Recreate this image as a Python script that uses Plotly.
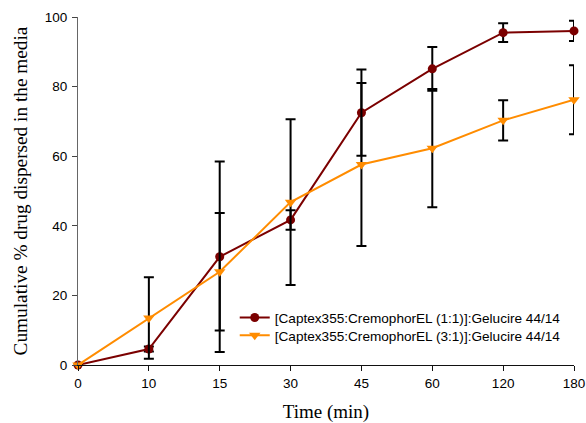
import plotly.graph_objects as go

# Sampling times (min), shown as evenly spaced categories
times = ["0", "10", "15", "30", "45", "60", "120", "180"]

# Cumulative % drug dispersed, mean and SD for each formulation
ratio_1_1_mean = [0.0, 4.6, 31.1, 41.7, 72.5, 85.1, 95.5, 96.0]
ratio_1_1_sd = [0.0, 0.7, 27.4, 2.8, 12.4, 6.3, 2.7, 2.9]
ratio_3_1_mean = [0.0, 13.5, 26.8, 46.8, 57.6, 62.3, 70.3, 76.2]
ratio_3_1_sd = [0.0, 11.7, 16.9, 23.8, 23.4, 17.0, 5.8, 9.9]

series_names = [
    "[Captex355:CremophorEL (1:1)]:Gelucire 44/14",
    "[Captex355:CremophorEL (3:1)]:Gelucire 44/14",
]

y_ticks = [0, 20, 40, 60, 80, 100]

sans = "Liberation Sans, Arial, sans-serif"
serif = "Liberation Serif, Times New Roman, serif"

fig = go.Figure()

fig.add_trace(go.Scatter(
    x=times, y=ratio_1_1_mean, name=series_names[0],
    mode="lines+markers",
    line=dict(color="#7b0000", width=2),
    marker=dict(symbol="circle", size=9, color="#7b0000"),
    error_y=dict(type="data", array=ratio_1_1_sd, visible=True,
                 color="black", thickness=2, width=5),
    cliponaxis=False,
    legend="legend",
))

fig.add_trace(go.Scatter(
    x=times, y=ratio_3_1_mean, name=series_names[1],
    mode="lines+markers",
    line=dict(color="#ff8c00", width=2),
    marker=dict(symbol="triangle-down", size=10, color="#ff8c00"),
    error_y=dict(type="data", array=ratio_3_1_sd, visible=True,
                 color="black", thickness=2, width=5),
    cliponaxis=False,
    legend="legend2",
))

# One legend box per series so the two rows sit close together
legend_style = dict(
    xanchor="left", yanchor="middle",
    bgcolor="rgba(0,0,0,0)", borderwidth=0,
    font=dict(family=sans, size=13.6, color="black"),
    itemwidth=30,
)

fig.update_layout(
    width=586, height=423,
    margin=dict(l=78, r=12, t=17, b=58),
    paper_bgcolor="white", plot_bgcolor="white",
    font=dict(family=sans, size=13, color="black"),
    showlegend=True,
    legend=dict(x=0.316, y=0.136, **legend_style),
    legend2=dict(x=0.316, y=0.085, **legend_style),
    xaxis=dict(
        type="category", categoryorder="array", categoryarray=times,
        range=[0, len(times) - 1], automargin=False,
        showgrid=False, zeroline=False,
        showline=True, linecolor="#111", linewidth=1,
        ticks="outside", ticklen=5, tickcolor="#111",
        tickfont=dict(family=sans, size=13.5),
        ticklabelstandoff=1,
        title=dict(text="Time (min)", font=dict(family=serif, size=19), standoff=17),
    ),
    yaxis=dict(
        range=[0, 100], tickvals=y_ticks, automargin=False,
        showgrid=False, zeroline=False,
        showline=True, linecolor="#666", linewidth=1,
        ticks="outside", ticklen=5, tickcolor="#444",
        tickfont=dict(family=sans, size=13.5),
        ticklabelstandoff=2,
        title=dict(text="Cumulative % drug dispersed in the media",
                   font=dict(family=serif, size=19.3), standoff=12),
    ),
)

fig.write_html("out.html")
